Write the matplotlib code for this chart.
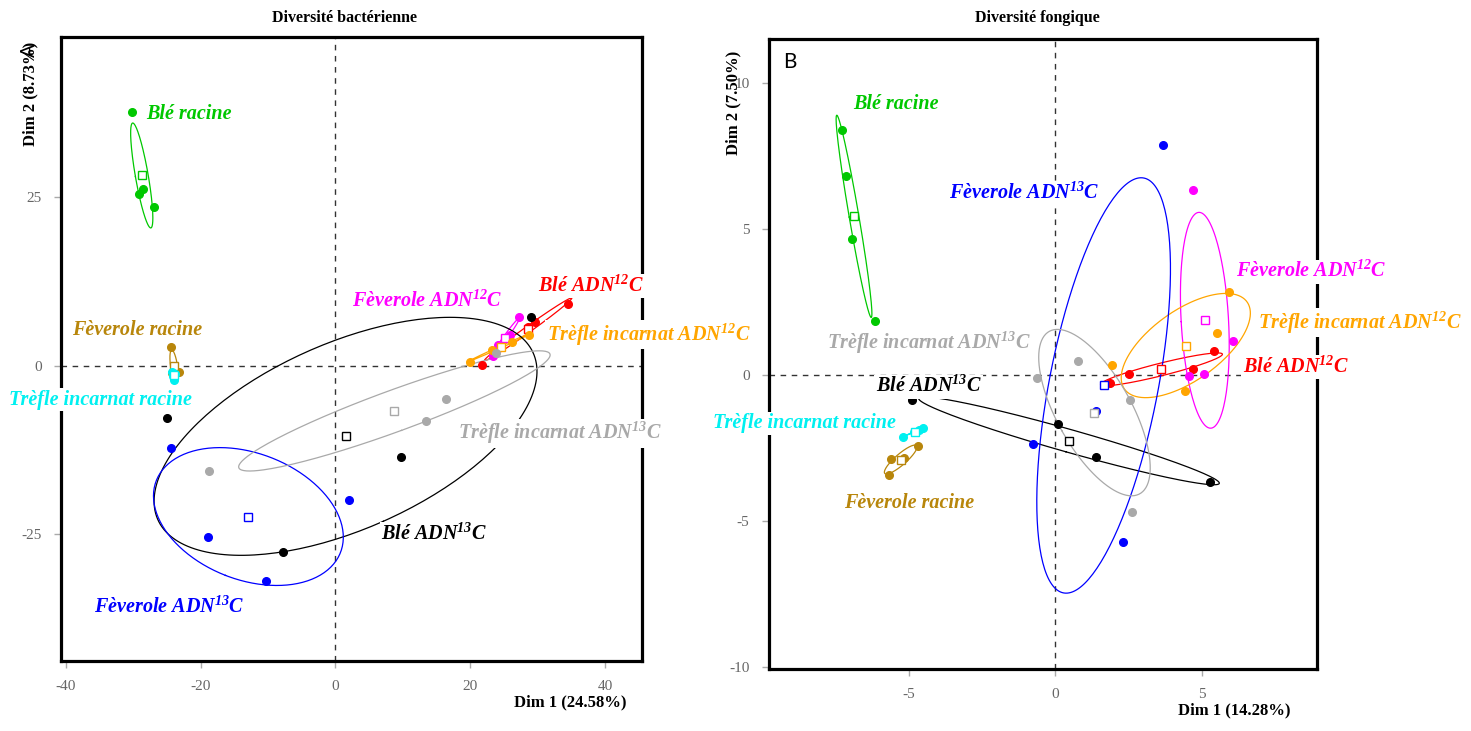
import numpy as np
import matplotlib
matplotlib.use("Agg")
import matplotlib.pyplot as plt

plt.rcParams["font.family"] = ["Liberation Serif", "DejaVu Serif"]
plt.rcParams["axes.unicode_minus"] = False
plt.rcParams["mathtext.fontset"] = "custom"
plt.rcParams["mathtext.rm"] = "Liberation Serif:bold:italic"
plt.rcParams["mathtext.it"] = "Liberation Serif:bold:italic"
plt.rcParams["mathtext.bf"] = "Liberation Serif:bold:italic"

# groups, in the same order for both panels
groups = ["Blé racine", "Fèverole racine", "Trèfle incarnat racine",
          "Blé ADN$^{12}$C", "Fèverole ADN$^{12}$C", "Trèfle incarnat ADN$^{12}$C",
          "Blé ADN$^{13}$C", "Fèverole ADN$^{13}$C", "Trèfle incarnat ADN$^{13}$C"]
colors = ["#00C800", "#B8860B", "#00F0F0",
          "#FF0000", "#FF00FF", "#FFA500",
          "#000000", "#0000FF", "#A9A9A9"]

# A - bacterial diversity, individuals per group
bact_x = [[-30.16, -28.59, -29.18, -26.95],
          [-24.37, -23.24, -24.22, -23.88],
          [-24.18, -24.03, -23.88, -23.73],
          [21.69, 28.57, 34.56, 29.61],
          [27.28, 23.37, 24.12, 25.90],
          [19.96, 28.72, 23.22, 26.19],
          [-25.02, -7.73, 9.75, 29.06],
          [-24.37, -18.93, -10.31, 2.02],
          [-18.78, 16.49, 13.46, 23.89]]
bact_y = [[37.64, 26.26, 25.52, 23.58],
          [2.87, -0.85, -1.04, -1.34],
          [-0.89, -1.49, -2.08, -1.19],
          [0.15, 5.79, 9.21, 6.54],
          [7.24, 1.49, 3.12, 4.61],
          [0.64, 4.61, 2.38, 3.57],
          [-7.77, -27.68, -13.57, 7.18],
          [-12.23, -25.36, -31.95, -19.91],
          [-15.65, -4.86, -8.13, 1.89]]

# B - fungal diversity
fung_x = [[-7.28, -7.14, -6.93, -6.16],
          [-5.68, -5.60, -5.16, -4.69],
          [-5.20, -4.83, -4.66, -4.52],
          [2.52, 4.68, 5.42, 1.86],
          [4.69, 6.07, 5.07, 4.57],
          [5.93, 5.52, 1.92, 4.43],
          [-4.90, 0.10, 1.39, 5.26],
          [3.67, 1.38, -0.77, 2.30],
          [-0.62, 0.78, 2.54, 2.63]]
fung_y = [[8.39, 6.80, 4.66, 1.85],
          [-3.43, -2.89, -2.86, -2.44],
          [-2.12, -1.96, -1.89, -1.81],
          [0.02, 0.21, 0.80, -0.29],
          [6.32, 1.16, 0.02, -0.04],
          [2.82, 1.42, 0.32, -0.56],
          [-0.88, -1.69, -2.82, -3.67],
          [7.87, -1.24, -2.37, -5.73],
          [-0.10, 0.48, -0.88, -4.69]]

# group label anchors (left edge, centre line)
bact_lab_x = [-28.1, -39.0, -48.4, 30.1, 2.5, 31.35, 6.8, -35.8, 18.2]
bact_lab_y = [37.3, 5.25, -5.05, 11.8, 9.55, 4.6, -25.0, -35.8, -10.0]
fung_lab_x = [-6.92, -7.22, -11.68, 6.39, 6.16, 6.92, -6.14, -3.62, -7.81]
fung_lab_y = [9.29, -4.38, -1.66, 0.27, 3.53, 1.78, -0.41, 6.23, 1.09]

CHI2_95 = 5.991  # chi-square, 2 dof, 95 %

W, H = 1471, 731


def fx(px):
    return px / W


def fy(py):
    return 1 - py / H


def conf_ellipse(x, y, n=200):
    pts = np.column_stack([x, y])
    c = pts.mean(axis=0)
    cov = np.cov(pts.T) / len(pts)
    vals, vecs = np.linalg.eigh(cov)
    t = np.linspace(0, 2 * np.pi, n)
    circ = np.vstack([np.cos(t), np.sin(t)])
    e = vecs @ (np.sqrt(np.clip(vals, 0, None) * CHI2_95)[:, None] * circ)
    return c[0] + e[0], c[1] + e[1]


def draw_panel(ax, xs, ys, lab_x, lab_y, xlim, ylim, xticks, yticks):
    ax.axhline(0, color="#333333", lw=1, ls=(0, (4, 4)), zorder=1)
    ax.axvline(0, color="#333333", lw=1, ls=(0, (4, 4)), zorder=1)
    for x, y, col in zip(xs, ys, colors):
        ex, ey = conf_ellipse(x, y)
        ax.plot(ex, ey, color=col, lw=0.9, zorder=2)
    for x, y, col in zip(xs, ys, colors):
        ax.plot(x, y, "o", color=col, ms=5.5, mec=col, zorder=3)
        ax.plot(np.mean(x), np.mean(y), "s", mfc="white", mec=col,
                ms=6, mew=1, zorder=3)
    for name, lx, ly, col in zip(groups, lab_x, lab_y, colors):
        ax.text(lx, ly, name, color=col, fontsize=14.5, fontweight="bold",
                fontstyle="italic", ha="left", va="center", clip_on=False,
                zorder=6, bbox=dict(fc="white", ec="none", pad=1))
    ax.set_xlim(*xlim)
    ax.set_ylim(*ylim)
    ax.set_xticks(xticks)
    ax.set_yticks(yticks)
    for s in ax.spines.values():
        s.set_linewidth(2.3)
        s.set_zorder(4)
    ax.tick_params(direction="out", length=5, width=1, color="#aaaaaa",
                   labelcolor="#666666", labelsize=11, pad=9)


fig = plt.figure(figsize=(W / 100, H / 100), dpi=100)

ax1 = fig.add_axes([fx(61), fy(661), fx(642) - fx(61), fy(37) - fy(661)])
draw_panel(ax1, bact_x, bact_y, bact_lab_x, bact_lab_y,
           (-40.7, 45.5), (-43.8, 48.8), [-40, -20, 0, 20, 40], [-25, 0, 25])

ax2 = fig.add_axes([fx(769), fy(669), fx(1317) - fx(769), fy(39) - fy(669)])
draw_panel(ax2, fung_x, fung_y, fung_lab_x, fung_lab_y,
           (-9.78, 8.93), (-10.08, 11.5), [-5, 0, 5], [-10, -5, 0, 5, 10])

# titles and axis names
fig.text(fx(345), fy(18), "Diversité bactérienne", ha="center", va="center",
         fontsize=11.5, fontweight="bold")
fig.text(fx(1037), fy(18), "Diversité fongique", ha="center", va="center",
         fontsize=11.5, fontweight="bold")
fig.text(fx(626), fy(702), "Dim 1 (24.58%)", ha="right", va="center",
         fontsize=12, fontweight="bold")
fig.text(fx(1290), fy(710), "Dim 1 (14.28%)", ha="right", va="center",
         fontsize=12, fontweight="bold")
fig.text(fx(30), fy(94), "Dim 2 (8.73%)", ha="center", va="center",
         rotation=90, fontsize=12, fontweight="bold")
fig.text(fx(733), fy(103), "Dim 2 (7.50%)", ha="center", va="center",
         rotation=90, fontsize=12, fontweight="bold")

# panel letters (A sits over the axis name, as in the source figure)
fig.text(fx(29), fy(50), "A", ha="center", va="center", rotation=90,
         fontsize=14, family=["Lato", "DejaVu Sans"])
fig.text(fx(790), fy(62), "B", ha="center", va="center",
         fontsize=15, family=["Lato", "DejaVu Sans"])

fig.savefig("out.png", dpi=100, facecolor="white")
